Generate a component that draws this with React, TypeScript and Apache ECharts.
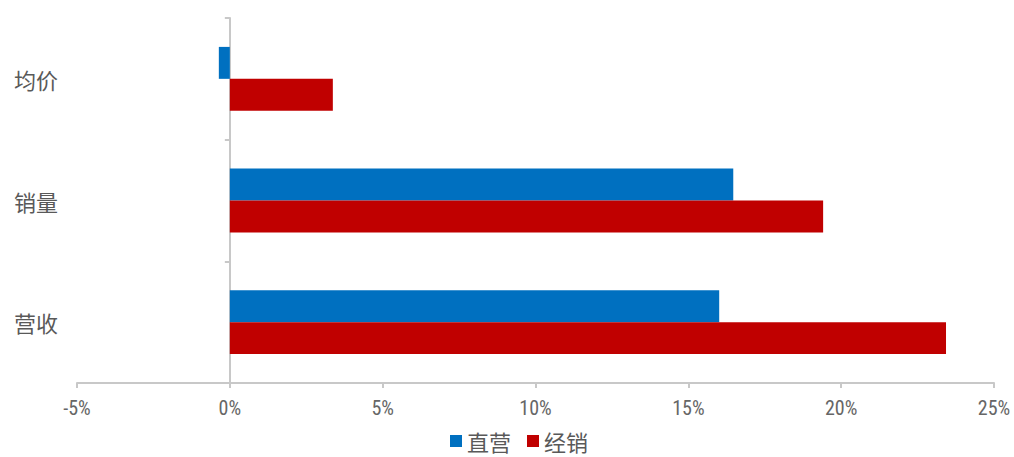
import React, { useEffect, useRef } from "react";
import * as echarts from "echarts";

const categories = ["均价", "销量", "营收"];
const directSales = [-0.36, 16.47, 16.01];
const distribution = [3.37, 19.41, 23.43];
const seriesNames = ["直营", "经销"];
const xTicks = { min: -5, max: 25, interval: 5 };

export default function App() {
  const ref = useRef<HTMLDivElement>(null);
  useEffect(() => {
    const chart = echarts.init(ref.current!, null, { renderer: "svg" });
    const txt = "#595959";
    const axisColor = "#c8c8c8";
    chart.setOption({
      animation: false,
      grid: { left: 77, right: 20, top: 18, bottom: 74, containLabel: false },
      legend: {
        data: seriesNames,
        top: 424,
        left: 445,
        padding: 5,
        icon: "rect",
        itemWidth: 12,
        itemHeight: 12,
        itemGap: 16,
        textStyle: { color: txt, fontSize: 22, lineHeight: 24, fontFamily: "Noto Sans CJK SC" },
      },
      xAxis: {
        type: "value",
        min: xTicks.min,
        max: xTicks.max,
        interval: xTicks.interval,
        splitLine: { show: false },
        axisLine: { show: true, onZero: false, lineStyle: { color: axisColor, width: 2 } },
        axisTick: { show: true, length: 5, lineStyle: { color: axisColor, width: 2 } },
        axisLabel: {
          color: "#666666",
          fontSize: 20,
          margin: 15,
          fontFamily: "Liberation Sans Narrow, Arial Narrow, Roboto Condensed, sans-serif",
          formatter: (v: number) => (v < 0 ? "-" + Math.abs(v) : v) + "%",
        },
      },
      yAxis: [
        {
          type: "category",
          data: categories,
          inverse: true,
          axisLine: { show: false, onZero: false },
          axisTick: { show: false },
          axisLabel: {
            color: txt,
            fontSize: 22,
            fontFamily: "Noto Sans CJK SC",
            margin: 19,
          },
        },
        {
          type: "category",
          data: categories,
          inverse: true,
          position: "left",
          axisLine: {
            show: true,
            onZero: true,
            onZeroAxisIndex: 0,
            lineStyle: { color: axisColor, width: 2 },
          },
          axisTick: { show: true, length: 5, lineStyle: { color: axisColor, width: 2 } },
          axisLabel: { show: false },
        },
      ],
      series: [
        {
          name: seriesNames[0],
          type: "bar",
          data: directSales,
          itemStyle: { color: "#0070c0" },
          barGap: "0%",
          barCategoryGap: "47.5%",
        },
        {
          name: seriesNames[1],
          type: "bar",
          data: distribution,
          itemStyle: { color: "#c00000" },
          barGap: "0%",
          barCategoryGap: "47.5%",
        },
      ],
    });
    return () => chart.dispose();
  }, []);
  return <div ref={ref} style={{ width: 1014, height: 457, position: "absolute", left: 0, top: 0 }} />;
}
